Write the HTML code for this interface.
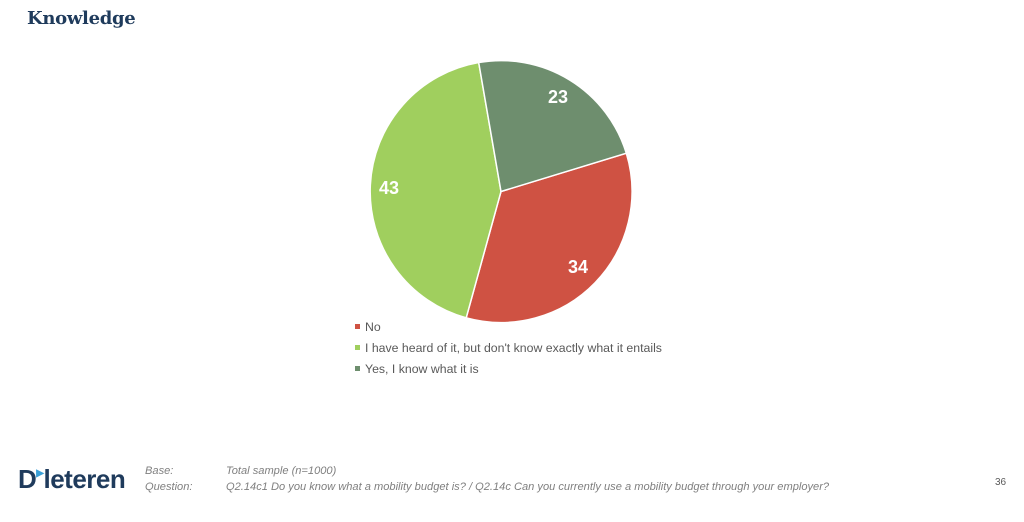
<!DOCTYPE html>
<html><head><style>
body{margin:0;width:1024px;height:522px;background:#fff;position:relative;font-family:"Liberation Sans",sans-serif;overflow:hidden}
.t{position:absolute;left:27px;top:8px;font-family:"DejaVu Serif","Liberation Serif",serif;font-weight:bold;font-size:18px;color:#1f3b5c;letter-spacing:-0.3px}
.leg{position:absolute;left:355px;font-size:12.3px;color:#595959}
.leg i{display:inline-block;width:5px;height:5px;margin-right:5px;vertical-align:2px}
.f{position:absolute;font-size:11.1px;font-style:italic;color:#7f7f7f}
</style></head><body>
<div class="t">Knowledge</div>
<svg width="1024" height="522" style="position:absolute;left:0;top:0">
<path d="M501,191.5 L626.3,153.2 A131,131 0 0 1 466.2,317.8 Z" fill="#cf5243" stroke="#fff" stroke-width="1.5"/>
<path d="M501,191.5 L466.2,317.8 A131,131 0 0 1 478.7,62.5 Z" fill="#a0cf5e" stroke="#fff" stroke-width="1.5"/>
<path d="M501,191.5 L478.7,62.5 A131,131 0 0 1 626.3,153.2 Z" fill="#6e8e6e" stroke="#fff" stroke-width="1.5"/>
<g font-family="Liberation Sans" font-weight="bold" font-size="18" fill="#fff" text-anchor="middle">
<text x="558" y="103">23</text><text x="389" y="194">43</text><text x="578" y="273">34</text></g>
</svg>
<div class="leg" style="top:320px"><i style="background:#cf5243"></i>No</div>
<div class="leg" style="top:341px"><i style="background:#a0cf5e"></i>I have heard of it, but don't know exactly what it entails</div>
<div class="leg" style="top:362px"><i style="background:#6e8e6e"></i>Yes, I know what it is</div>
<div style="position:absolute;left:18px;top:464px;font-weight:bold;font-size:26px;color:#1f3b5c;letter-spacing:-0.5px">D<span style="color:#3aa0d8;font-size:10px;vertical-align:12px">▶</span>leteren</div>
<div class="f" style="left:145px;top:465px">Base:</div>
<div class="f" style="left:145px;top:481px">Question:</div>
<div class="f" style="left:226px;top:465px">Total sample (n=1000)</div>
<div class="f" style="left:226px;top:481px">Q2.14c1 Do you know what a mobility budget is? / Q2.14c Can you currently use a mobility budget through your employer?</div>
<div style="position:absolute;left:995px;top:477px;font-size:10px;color:#595959">36</div>
</body></html>
